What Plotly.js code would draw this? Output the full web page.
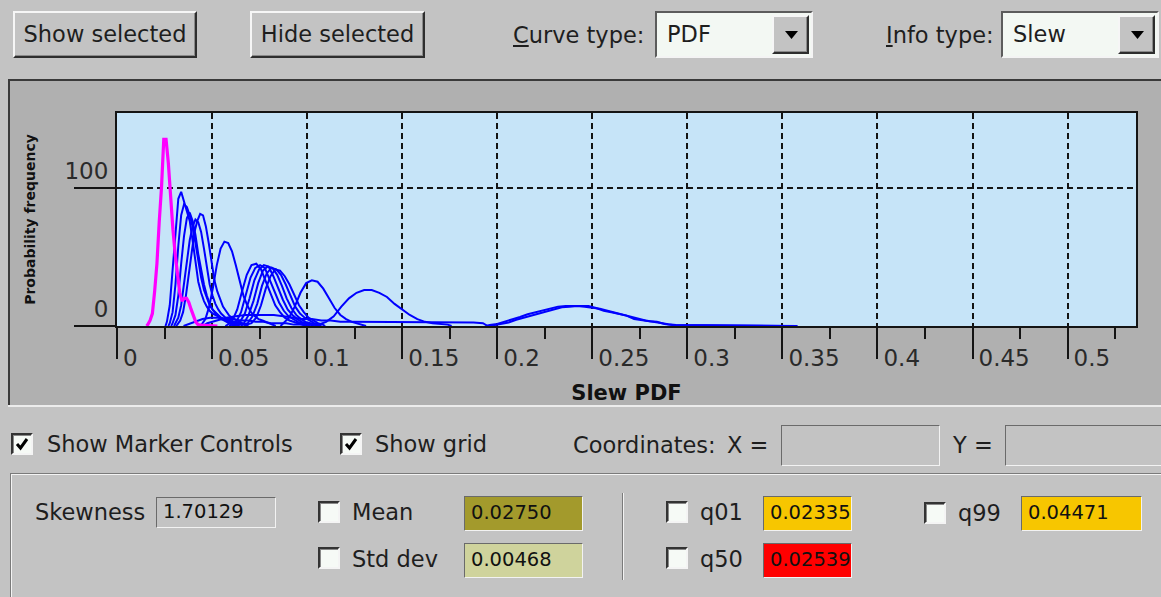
<!DOCTYPE html>
<html>
<head>
<meta charset="utf-8">
<script src="https://cdn.plot.ly/plotly-3.0.1.min.js"></script>
<style>
  html, body { margin:0; padding:0; }
  body { width:1161px; height:597px; background:#c3c3c3; position:relative; overflow:hidden;
         font-family:"DejaVu Sans", sans-serif; font-size:22.5px; color:#1e1e1e; }
  .abs { position:absolute; box-sizing:border-box; }
  .raised { background:#c3c3c3; border-top:2px solid #f6f6f6; border-left:2px solid #f6f6f6;
            border-bottom:2px solid #2e2e2e; border-right:2px solid #2e2e2e; box-shadow: inset -1px -1px 0 #8a8a8a; }
  .sunken { border-top:2px solid #5c5c5c; border-left:2px solid #5c5c5c;
            border-bottom:2px solid #f4f4f4; border-right:2px solid #f4f4f4; }
  .thin { border-top:1px solid #6a6a6a; border-left:1px solid #6a6a6a;
          border-bottom:1px solid #f2f2f2; border-right:1px solid #f2f2f2; }
  .lbl { white-space:nowrap; height:30px; line-height:30px; }
  .btn { text-align:center; line-height:42px; }
  .chk { width:22px; height:22px; background:#f6faf6; border-top:2px solid #333; border-left:2px solid #333;
         border-bottom:2px solid #f4f4f4; border-right:2px solid #f4f4f4; box-shadow: 1px 1px 0 #888 inset; }
  .val { padding-left:6px; line-height:32px; font-size:19.5px; color:#111; white-space:nowrap; overflow:hidden; }
</style>
</head>
<body>
<!-- top bar -->
<div class="abs raised btn" style="left:13px;top:11px;width:184px;height:47px;">Show selected</div>
<div class="abs raised btn" style="left:250px;top:11px;width:175px;height:47px;">Hide selected</div>
<div class="abs lbl" style="left:513px;top:20px;"><u>C</u>urve type:</div>
<div class="abs sunken" style="left:655px;top:11px;width:158px;height:47px;background:#f3f8f3;">
  <div class="abs lbl" style="left:10px;top:6px;">PDF</div>
  <div class="abs raised" style="left:115px;top:2px;width:37px;height:39px;">
    <svg class="abs" style="left:11px;top:14px;" width="13" height="8"><polygon points="0,0 13,0 6.5,8" fill="#000"/></svg>
  </div>
</div>
<div class="abs lbl" style="left:886px;top:20px;"><u>I</u>nfo type:</div>
<div class="abs sunken" style="left:1001px;top:11px;width:158px;height:47px;background:#f3f8f3;">
  <div class="abs lbl" style="left:10px;top:6px;">Slew</div>
  <div class="abs raised" style="left:115px;top:2px;width:37px;height:39px;">
    <svg class="abs" style="left:11px;top:14px;" width="13" height="8"><polygon points="0,0 13,0 6.5,8" fill="#000"/></svg>
  </div>
</div>

<!-- plot panel -->
<div class="abs" style="left:8px;top:79px;width:1153px;height:326px;border-left:2px solid #3a3a3a;border-top:2px solid #3a3a3a;background:#b0b0b0;">
  <div id="chart" class="abs" style="left:0;top:0;width:1151px;height:324px;"></div>
</div>
<div class="abs" style="left:8px;top:405px;width:1153px;height:2px;background:#ececec;"></div>

<!-- options row -->
<div class="abs chk" style="left:11px;top:433px;">
  <svg class="abs" style="left:1px;top:1px;" width="16" height="16"><polyline points="3,8 6.5,12 13,3" fill="none" stroke="#000" stroke-width="3"/></svg>
</div>
<div class="abs lbl" style="left:47px;top:429px;">Show Marker Controls</div>
<div class="abs chk" style="left:340px;top:433px;">
  <svg class="abs" style="left:1px;top:1px;" width="16" height="16"><polyline points="3,8 6.5,12 13,3" fill="none" stroke="#000" stroke-width="3"/></svg>
</div>
<div class="abs lbl" style="left:375px;top:429px;">Show grid</div>
<div class="abs lbl" style="left:573px;top:430px;">Coordinates:</div>
<div class="abs lbl" style="left:727px;top:430px;">X =</div>
<div class="abs thin" style="left:781px;top:425px;width:159px;height:41px;"></div>
<div class="abs lbl" style="left:953px;top:430px;">Y =</div>
<div class="abs thin" style="left:1005px;top:425px;width:170px;height:41px;"></div>

<!-- marker group -->
<div class="abs" style="left:10px;top:473px;width:1170px;height:140px;border-top:1px solid #7a7a7a;border-left:1px solid #7a7a7a;box-shadow: inset 1px 1px 0 #f4f4f4;"></div>
<div class="abs lbl" style="left:35px;top:497px;">Skewness</div>
<div class="abs thin val" style="left:156px;top:497px;width:120px;height:31px;line-height:28px;">1.70129</div>

<div class="abs chk" style="left:318px;top:501px;"></div>
<div class="abs lbl" style="left:352px;top:497px;">Mean</div>
<div class="abs thin val" style="left:464px;top:496px;width:119px;height:35px;background:#a39a2c;">0.02750</div>
<div class="abs chk" style="left:318px;top:547px;"></div>
<div class="abs lbl" style="left:352px;top:544px;">Std dev</div>
<div class="abs thin val" style="left:464px;top:543px;width:119px;height:35px;background:#cfd39c;">0.00468</div>

<div class="abs" style="left:622px;top:493px;width:2px;height:87px;border-left:1px solid #7a7a7a;border-right:1px solid #f2f2f2;"></div>

<div class="abs chk" style="left:666px;top:501px;"></div>
<div class="abs lbl" style="left:700px;top:497px;">q01</div>
<div class="abs thin val" style="left:763px;top:496px;width:89px;height:35px;background:#f7c600;">0.02335</div>
<div class="abs chk" style="left:666px;top:547px;"></div>
<div class="abs lbl" style="left:700px;top:544px;">q50</div>
<div class="abs thin val" style="left:763px;top:543px;width:89px;height:35px;background:#ff0000;">0.02539</div>
<div class="abs chk" style="left:924px;top:502px;"></div>
<div class="abs lbl" style="left:958px;top:498px;">q99</div>
<div class="abs thin val" style="left:1021px;top:496px;width:121px;height:35px;background:#f7c600;">0.04471</div>

<script>
// ---------- data ----------
const xTickVals = [0, 0.05, 0.1, 0.15, 0.2, 0.25, 0.3, 0.35, 0.4, 0.45, 0.5];
const xTickText = ['0', '0.05', '0.1', '0.15', '0.2', '0.25', '0.3', '0.35', '0.4', '0.45', '0.5'];
const xMinorVals = [0.025, 0.075, 0.125, 0.175, 0.225, 0.275, 0.325, 0.375, 0.425, 0.475, 0.525];
const yTickVals = [0, 100];
const yTickText = ['0', '100'];

// selected curve (magenta): bin start, bin width, probability frequency
const selStart = 0.0156, selBin = 0.0012;
const selPdf = [1, 4, 9, 25, 45, 75, 100, 135, 135, 118, 90, 70, 52, 38, 24, 18, 20, 20, 17, 12, 7, 3, 1, 0.5, 0.5, 0.5, 0.5, 0.5, 0.5, 0.5, 0.5];

// other curves (blue): bin starts, bin widths, and one frequency list each
const binStarts = [0.0255, 0.027, 0.0285, 0.030, 0.031, 0.0435, 0.057, 0.059, 0.061, 0.063, 0.065, 0.067, 0.086, 0.104, 0.045, 0.035, 0.194, 0.196];
const binWidths = [0.0015, 0.0015, 0.0015, 0.0015, 0.0015, 0.002, 0.0025, 0.0025, 0.0025, 0.0025, 0.0025, 0.0025, 0.003, 0.004, 0.005, 0.004, 0.004, 0.004];
const pdf01 = [3, 15, 40, 70, 92, 97, 90, 84, 76, 62, 45, 32, 24, 18, 14, 11, 9, 8, 7, 6, 5, 5, 4, 3, 3, 2, 2, 1, 1];
const pdf02 = [2, 10, 30, 58, 80, 88, 86, 80, 72, 60, 46, 35, 26, 20, 15, 12, 10, 8, 6, 5, 4, 3, 2, 1];
const pdf03 = [2, 8, 22, 45, 65, 78, 82, 76, 66, 52, 40, 30, 22, 16, 12, 9, 7, 5, 4, 3, 2, 1];
const pdf04 = [2, 6, 15, 30, 48, 62, 72, 77, 75, 68, 56, 42, 30, 22, 16, 12, 9, 7, 5, 4, 3, 2, 1];
const pdf05 = [1, 4, 10, 22, 38, 55, 68, 76, 81, 80, 72, 60, 45, 33, 25, 19, 14, 11, 8, 6, 5, 4, 3, 2, 1];
const pdf06 = [1, 5, 14, 28, 44, 56, 61, 60, 54, 44, 32, 22, 15, 10, 7, 5, 4, 3, 2, 1];
const pdf07 = [1, 4, 12, 25, 37, 44, 45, 41, 32, 23, 15, 10, 6, 4, 3, 2, 1];
const pdf08 = [1, 3, 10, 22, 35, 42, 44, 42, 34, 25, 17, 11, 7, 5, 3, 2, 1];
const pdf09 = [1, 3, 9, 20, 33, 41, 44, 43, 36, 27, 19, 12, 8, 5, 3, 2, 1];
const pdf10 = [1, 2, 8, 18, 31, 40, 43, 42, 37, 29, 20, 13, 8, 5, 3, 2, 1];
const pdf11 = [1, 2, 7, 16, 29, 38, 42, 41, 37, 30, 22, 14, 9, 6, 4, 2, 1];
const pdf12 = [1, 2, 6, 15, 27, 36, 41, 40, 36, 30, 22, 15, 10, 6, 4, 2, 1];
const pdf13 = [2, 6, 14, 24, 31, 33, 32, 27, 20, 13, 8, 5, 3, 2, 1];
const pdf14 = [1, 3, 7, 14, 20, 24, 26, 26, 24, 21, 16, 12, 8, 5, 3, 2, 1.5, 1];
const pdf15 = [2, 4, 6, 7, 8, 8, 8, 8, 7, 6, 5, 5, 4, 4, 3, 3, 3, 2.5, 2.5, 2.5, 2.5, 2.5, 2.5, 2.5, 2.5, 2.5, 2.5, 2.5, 2.5, 2];
const pdf16 = [1, 3, 5, 6, 6, 5, 5, 4, 4, 3, 3, 2, 2, 2, 1, 1, 1, 1];
const pdf17 = [0.7, 1.5, 3, 5, 6.5, 8.5, 10, 11.5, 13, 14, 14.5, 14.5, 14.5, 14.5, 13, 11, 10, 9, 7.5, 5, 4, 3.5, 3, 1.5, 0.8, 0.5, 0.5, 0.5, 0.5, 0.5, 0.5, 0.5, 0.5, 0.5, 0.5, 0.5, 0.5, 0.5, 0.5, 0.5, 0.5];
const pdf18 = [0.5, 1.2, 2.5, 4.5, 6, 8, 9.5, 11, 12.5, 13.5, 14, 14.5, 14, 13.5, 12.5, 11, 9.5, 8, 6.5, 5, 4, 3, 2, 1.2, 0.7, 0.5, 0.5, 0.5, 0.5, 0.5, 0.5, 0.5, 0.5, 0.5, 0.5, 0.5, 0.5, 0.5, 0.5];
const otherPdfs = [pdf01, pdf02, pdf03, pdf04, pdf05, pdf06, pdf07, pdf08, pdf09, pdf10, pdf11, pdf12, pdf13, pdf14, pdf15, pdf16, pdf17, pdf18];

// ---------- build ----------
// each frequency is drawn at its bin centre, closed to zero at the bin range ends
function pdfTrace(start, bin, pdf, color, width) {
  const x = [start], y = [0];
  pdf.forEach((v, i) => { x.push(start + (i + 0.5) * bin); y.push(v); });
  x.push(start + pdf.length * bin); y.push(0);
  return { type: 'scatter', mode: 'lines', x: x, y: y, hoverinfo: 'skip',
           line: { shape: 'linear', color: color, width: width } };
}
const traces = otherPdfs.map((p, i) => pdfTrace(binStarts[i], binWidths[i], p, '#0000ff', 2));
traces.push(pdfTrace(selStart, selBin, selPdf, '#ff00ff', 3.2));

const ink = '#141414';
const layout = {
  width: 1151, height: 324,
  margin: { l: 107, r: 25, t: 32, b: 79 },
  paper_bgcolor: '#b0b0b0', plot_bgcolor: '#c6e4f8',
  showlegend: false,
  font: { family: 'DejaVu Sans', color: '#222' },
  xaxis: {
    range: [0, 0.536], tickmode: 'array', tickvals: xTickVals, ticktext: xTickText,
    ticks: 'outside', ticklen: 31, tickwidth: 2, tickcolor: ink,
    ticklabelposition: 'outside right', ticklabelshift: 4, ticklabelstandoff: 10,
    tickfont: { size: 23, color: '#2a2a2a' },
    showline: true, linewidth: 2, linecolor: ink, mirror: true,
    showgrid: true, gridcolor: ink, gridwidth: 2, griddash: '6px,4px', zeroline: false,
    minor: { tickmode: 'array', tickvals: xMinorVals, ticks: 'outside', ticklen: 11, tickwidth: 2, tickcolor: ink, showgrid: false },
    title: { text: 'Slew PDF', font: { size: 21, family: 'DejaVu Sans', weight: 'bold', color: '#111' }, standoff: 24 }
  },
  yaxis: {
    range: [0, 154], tickmode: 'array', tickvals: yTickVals, ticktext: yTickText,
    ticks: 'outside', ticklen: 41, tickwidth: 2, tickcolor: ink,
    ticklabelposition: 'outside top', ticklabelstandoff: 2,
    tickfont: { size: 23, color: '#2a2a2a' },
    showline: true, linewidth: 2, linecolor: ink, mirror: true,
    showgrid: true, gridcolor: ink, gridwidth: 2, griddash: '6px,4px', zeroline: false,
    title: { text: 'Probability frequency', font: { size: 14, family: 'DejaVu Sans', weight: 'bold', color: '#111' }, standoff: 26 }
  }
};
Plotly.newPlot('chart', traces, layout, { staticPlot: true, displayModeBar: false });
</script>
</body>
</html>
